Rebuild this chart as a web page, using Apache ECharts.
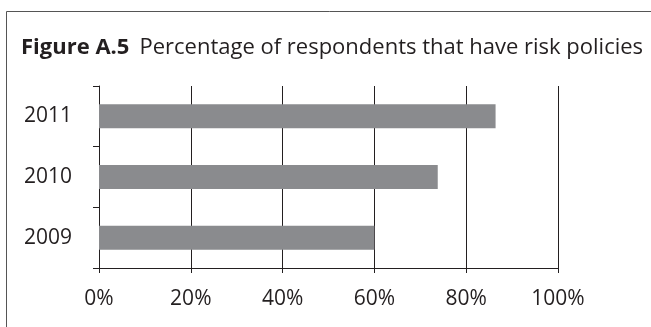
<!DOCTYPE html>
<html>
<head>
<meta charset="utf-8">
<script src="https://cdn.jsdelivr.net/npm/echarts@6/dist/echarts.min.js"></script>
<style>
  html, body { margin: 0; padding: 0; background: #fff; }
  #chart { width: 651px; height: 327px; }
</style>
</head>
<body>
<div id="chart"></div>
<script>
// Share of respondents with risk policies, by survey year
const years = ['2009', '2010', '2011'];
const shares = [60, 73.8, 86.4];
const tickStep = 20;

const FONT = '"Open Sans", "DejaVu Sans", sans-serif';
const INK = '#231f20';

const chart = echarts.init(document.getElementById('chart'), null, { renderer: 'canvas' });

chart.setOption({
  animation: false,
  backgroundColor: '#fff',
  title: {
    text: '{b|Figure A.5}  {r|Percentage of respondents that have risk policies}',
    left: 16,
    top: 32,
    textStyle: {
      fontWeight: 'normal',
      rich: {
        b: { fontFamily: FONT, fontWeight: 'bold', fontSize: 22, color: INK },
        r: { fontFamily: FONT, fontWeight: 'normal', fontSize: 22, color: INK }
      }
    }
  },
  graphic: [{
    type: 'rect',
    shape: { x: 6.5, y: 11.5, width: 700, height: 400 },
    style: { fill: 'none', stroke: '#555', lineWidth: 1 },
    silent: true
  }],
  grid: { left: 99, right: 93, top: 86, bottom: 59, containLabel: false },
  xAxis: {
    type: 'value',
    min: 0,
    max: 100,
    interval: tickStep,
    axisLine: { show: true, lineStyle: { color: INK, width: 1 } },
    axisTick: { show: true, length: 5, lineStyle: { color: INK } },
    splitLine: { show: true, lineStyle: { color: INK, width: 1 } },
    axisLabel: {
      formatter: '{value}%',
      margin: 21,
      fontFamily: FONT,
      fontSize: 21,
      color: INK
    }
  },
  yAxis: {
    type: 'category',
    data: years,
    axisLine: { show: true, lineStyle: { color: INK, width: 1 } },
    axisTick: { show: true, length: 6, lineStyle: { color: INK } },
    axisLabel: {
      margin: 27,
      fontFamily: FONT,
      fontSize: 21,
      color: INK
    }
  },
  series: [{
    type: 'bar',
    data: shares,
    barWidth: 24,
    itemStyle: { color: '#8a8b8e' }
  }]
});
</script>
</body>
</html>
